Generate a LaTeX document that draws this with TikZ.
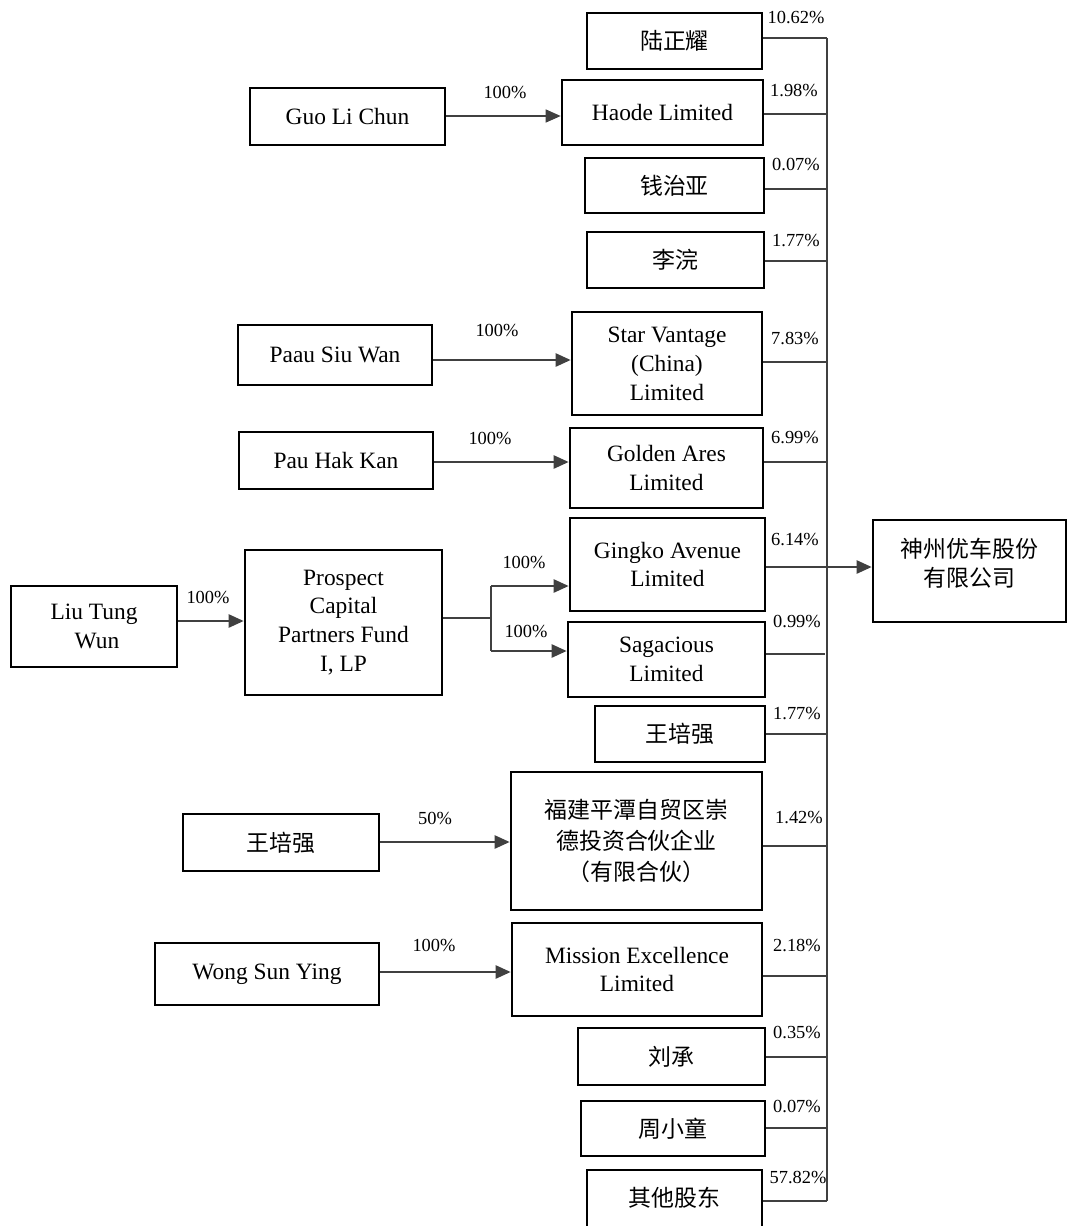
\documentclass[tikz,border=0pt]{standalone}
\usepackage{fontspec}
\setmainfont{Liberation Serif}
\newfontfamily\cjk{Noto Sans CJK SC}
\usetikzlibrary{arrows.meta}
\tikzset{
  box/.style={draw=black, line width=2.6bp, fill=white, align=center, inner sep=2bp,
    font=\fontsize{23.5}{29}\selectfont},
  cbox/.style={box, font=\cjk\fontsize{23}{31}\selectfont},
  link/.style={draw=black!75, line width=2.4bp},
  arr/.style={link, -{Triangle[length=15bp,width=13bp]}},
  thinarr/.style={draw=black!75, line width=1.3bp, -{Triangle[length=15bp,width=13bp]}},
  pct/.style={font=\fontsize{18.5}{20}\selectfont, inner sep=0pt},
  inner/.style={font=\cjk\fontsize{23}{29}\selectfont, align=center, inner sep=0pt}
}
\begin{document}
\begin{tikzpicture}[x=1bp, y=-1bp]
\clip (0,0) rectangle (1068,1226);
\fill[white] (0,0) rectangle (1068,1226);

% right column boxes
\node[cbox, minimum width=175bp, minimum height=56bp] (a1) at (674.5,41) {陆正耀};
\node[box, minimum width=201bp, minimum height=65bp] (a2) at (662.5,112.5) {Haode Limited};
\node[cbox, minimum width=179bp, minimum height=55bp] (a3) at (674.5,185.5) {钱治亚};
\node[cbox, minimum width=177bp, minimum height=56bp] (a4) at (675.5,260) {李浣};
\node[box, minimum width=190bp, minimum height=103bp] (a5) at (667,363.5) {Star Vantage\\(China)\\Limited};
\node[box, minimum width=193bp, minimum height=80bp] (a6) at (666.5,468) {Golden Ares\\Limited};
\node[box, minimum width=195bp, minimum height=93bp] (a7) at (667.5,564.5) {Gingko Avenue\\Limited};
\node[box, minimum width=197bp, minimum height=75bp] (a8) at (666.5,659.5) {Sagacious\\Limited};
\node[cbox, minimum width=170bp, minimum height=56bp] (a9) at (680,734) {王培强};
\node[cbox, minimum width=251bp, minimum height=138bp] (a10) at (636.5,841) {福建平潭自贸区崇\\德投资合伙企业\\（有限合伙）};
\node[box, minimum width=250bp, minimum height=93bp] (a11) at (637,969.5) {Mission Excellence\\Limited};
\node[cbox, minimum width=187bp, minimum height=57bp] (a12) at (671.5,1056.5) {刘承};
\node[cbox, minimum width=184bp, minimum height=55bp] (a13) at (673,1128.5) {周小童};
\node[box, minimum width=175bp, minimum height=70bp] (a14) at (674.5,1205) {};
\node[inner] (a14t) at (674.5,1198) {其他股东};

% target
\node[box, minimum width=193bp, minimum height=102bp] (T) at (969.5,571) {};
\node[inner] (Tt) at (969.5,563) {神州优车股份\\有限公司};

% left boxes
\node[box, minimum width=195bp, minimum height=57bp] (L1) at (347.5,116.5) {Guo Li Chun};
\node[box, minimum width=194bp, minimum height=60bp] (L2) at (335,355) {Paau Siu Wan};
\node[box, minimum width=194bp, minimum height=57bp] (L3) at (336,460.5) {Pau Hak Kan};
\node[box, minimum width=166bp, minimum height=81bp] (L4) at (94,626.5) {Liu Tung\\\ Wun};
\node[box, minimum width=197bp, minimum height=145bp] (L5) at (343.5,622.5) {Prospect\\Capital\\Partners Fund\\I, LP};
\node[cbox, minimum width=196bp, minimum height=57bp] (L6) at (281,842.5) {王培强};
\node[box, minimum width=224bp, minimum height=62bp] (L7) at (267,974) {Wong Sun Ying};

% bus coordinates
\coordinate (b1) at (827,38);
\coordinate (b2) at (827,114);
\coordinate (b3) at (827,189);
\coordinate (b4) at (827,261);
\coordinate (b5) at (827,362);
\coordinate (b6) at (827,462);
\coordinate (b7) at (827,567);
\coordinate (b8) at (825,654);
\coordinate (b9) at (827,734);
\coordinate (b10) at (827,846);
\coordinate (b11) at (827,976);
\coordinate (b12) at (827,1057);
\coordinate (b13) at (827,1128);
\coordinate (b14) at (827,1201);

\draw[link] (b1) -- (b14);
\draw[link] (a1.east |- b1) -- (b1);
\draw[link] (a2.east |- b2) -- (b2);
\draw[link] (a3.east |- b3) -- (b3);
\draw[link] (a4.east |- b4) -- (b4);
\draw[link] (a5.east |- b5) -- (b5);
\draw[link] (a6.east |- b6) -- (b6);
\draw[arr] (a7.east |- b7) -- (T.west |- b7);
\draw[link] (a8.east |- b8) -- (b8);
\draw[link] (a9.east |- b9) -- (b9);
\draw[link] (a10.east |- b10) -- (b10);
\draw[link] (a11.east |- b11) -- (b11);
\draw[link] (a12.east |- b12) -- (b12);
\draw[link] (a13.east |- b13) -- (b13);
\draw[link] (a14.east |- b14) -- (b14);

% percentages
\node[pct] at (796,17) {10.62\%};
\node[pct] at (794,90) {1.98\%};
\node[pct] at (796,164) {0.07\%};
\node[pct] at (796,240) {1.77\%};
\node[pct] at (795,338) {7.83\%};
\node[pct] at (795,437) {6.99\%};
\node[pct] at (795,539) {6.14\%};
\node[pct] at (797,621) {0.99\%};
\node[pct] at (797,713) {1.77\%};
\node[pct] at (799,817) {1.42\%};
\node[pct] at (797,945) {2.18\%};
\node[pct] at (797,1032) {0.35\%};
\node[pct] at (797,1106) {0.07\%};
\node[pct] at (798,1177) {57.82\%};

% left arrows
\coordinate (g1) at (0,116);
\coordinate (g2) at (0,360);
\coordinate (g3) at (0,462);
\coordinate (g4) at (0,621);
\coordinate (g6) at (0,842);
\coordinate (g7) at (0,972);
\draw[thinarr] (L1.east |- g1) -- (a2.west |- g1);
\draw[arr] (L2.east |- g2) -- (a5.west |- g2);
\draw[arr] (L3.east |- g3) -- (a6.west |- g3);
\draw[arr] (L4.east |- g4) -- (L5.west |- g4);
\draw[arr] (L6.east |- g6) -- (a10.west |- g6);
\draw[arr] (L7.east |- g7) -- (a11.west |- g7);

\coordinate (s0) at (491,618);
\coordinate (s1) at (491,586);
\coordinate (s2) at (491,651);
\draw[link] (L5.east |- s0) -- (s0);
\draw[link] (s1) -- (s2);
\draw[arr] (s1) -- (a7.west |- s1);
\draw[arr] (s2) -- (a8.west |- s2);

\node[pct] at (505,92) {100\%};
\node[pct] at (497,330) {100\%};
\node[pct] at (490,438) {100\%};
\node[pct] at (208,597) {100\%};
\node[pct] at (524,562) {100\%};
\node[pct] at (526,631) {100\%};
\node[pct] at (435,818) {50\%};
\node[pct] at (434,945) {100\%};
\end{tikzpicture}
\end{document}
